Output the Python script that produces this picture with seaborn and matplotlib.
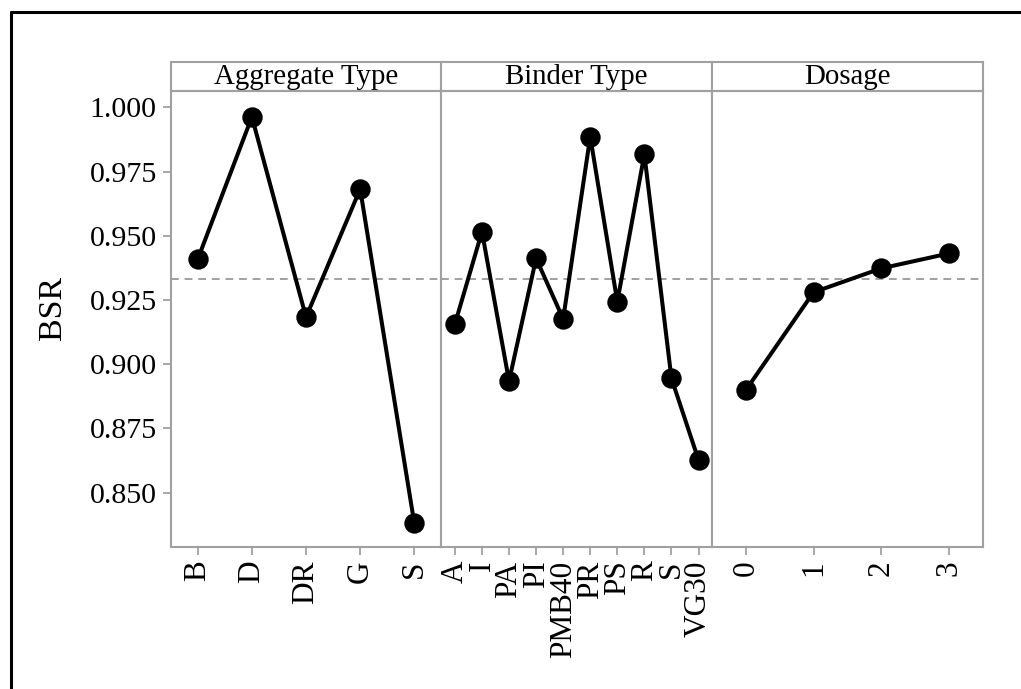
import matplotlib
matplotlib.use("Agg")
import matplotlib.pyplot as plt
import seaborn as sns
import pandas as pd
from matplotlib.patches import Rectangle
from matplotlib.lines import Line2D

# ---- data ----
agg_cats = ["B", "D", "DR", "G", "S"]
agg_vals = [0.9409, 0.9963, 0.9183, 0.9682, 0.8380]

binder_cats = ["A", "I", "PA", "PI", "PMB40", "PR", "PS", "R", "S", "VG30"]
binder_vals = [0.9156, 0.9516, 0.8934, 0.9412, 0.9176, 0.9886, 0.9243, 0.9817, 0.8945, 0.8627]

dose_cats = ["0", "1", "2", "3"]
dose_vals = [0.8899, 0.9280, 0.9373, 0.9431]

panel_titles = ["Aggregate Type", "Binder Type", "Dosage"]
y_ticks = [0.850, 0.875, 0.900, 0.925, 0.950, 0.975, 1.000]
grand_mean = 0.9330
y_label = "BSR"

sns.set_theme(style="white")
plt.rcParams["font.family"] = ["Liberation Serif", "DejaVu Serif"]

W, H = 1021, 689
fig = plt.figure(figsize=(W / 100, H / 100), dpi=100)
left, right = 170.7 / W, 982.7 / W
bottom, top = 1 - 546.7 / H, 1 - 90.7 / H
gs = fig.add_gridspec(1, 3, left=left, right=right, bottom=bottom, top=top, wspace=0)

panels = [(agg_cats, agg_vals), (binder_cats, binder_vals), (dose_cats, dose_vals)]
grey = "#a0a0a0"
strip_h = 28.4 / (546.7 - 90.7)

axes = []
for i, ((cats, vals), title) in enumerate(zip(panels, panel_titles)):
    ax = fig.add_subplot(gs[0, i], sharey=axes[0] if axes else None)
    df = pd.DataFrame({"cat": cats, "val": vals})
    sns.pointplot(data=df, x="cat", y="val", order=cats, color="black",
                  errorbar=None, markers="o", linestyles="-", ax=ax,
                  markersize=12.5, linewidth=2.9)
    ax.axhline(grand_mean, color=grey, lw=1.4, ls=(0, (4, 3)), zorder=0)
    n = len(cats)
    ax.set_xlim(-0.5, n - 0.5)
    ax.set_xlabel("")
    ax.set_ylabel("")
    for s in ax.spines.values():
        s.set_color(grey)
        s.set_linewidth(1.5)
    ax.tick_params(axis="x", which="both", bottom=True, length=6, width=1.3,
                   color=grey, labelsize=22.5, labelrotation=90, pad=4,
                   labelcolor="black")
    if i == 0:
        ax.tick_params(axis="y", left=True, length=6, width=1.3, color=grey,
                       labelsize=21.5, pad=4, labelcolor="black")
    else:
        ax.tick_params(axis="y", left=False, labelleft=False)
    # strip
    rect = Rectangle((0, 1), 1, strip_h, transform=ax.transAxes, clip_on=False,
                     facecolor="white", edgecolor=grey, linewidth=1.5)
    ax.add_patch(rect)
    ax.text(0.5, 1 + strip_h / 2, title, transform=ax.transAxes, ha="center",
            va="center", fontsize=20.8, color="black")
    ax.grid(False)
    axes.append(ax)

axes[0].set_ylim(0.8289, 1.0065)
axes[0].set_yticks(y_ticks)
axes[0].set_yticklabels([f"{t:.3f}" for t in y_ticks])

fig.text(53 / W, 1 - 308 / H, y_label, rotation=90, ha="center", va="center",
         fontsize=24.5, color="black")

# outer frame (top and left edges)
fig.add_artist(Line2D([11 / W, 11 / W], [0, 1 - 12.3 / H], transform=fig.transFigure,
                      color="black", lw=2.2))
fig.add_artist(Line2D([11 / W, 1], [1 - 12.3 / H, 1 - 12.3 / H], transform=fig.transFigure,
                      color="black", lw=2.2))

fig.savefig("out.png", dpi=100, facecolor="white")
